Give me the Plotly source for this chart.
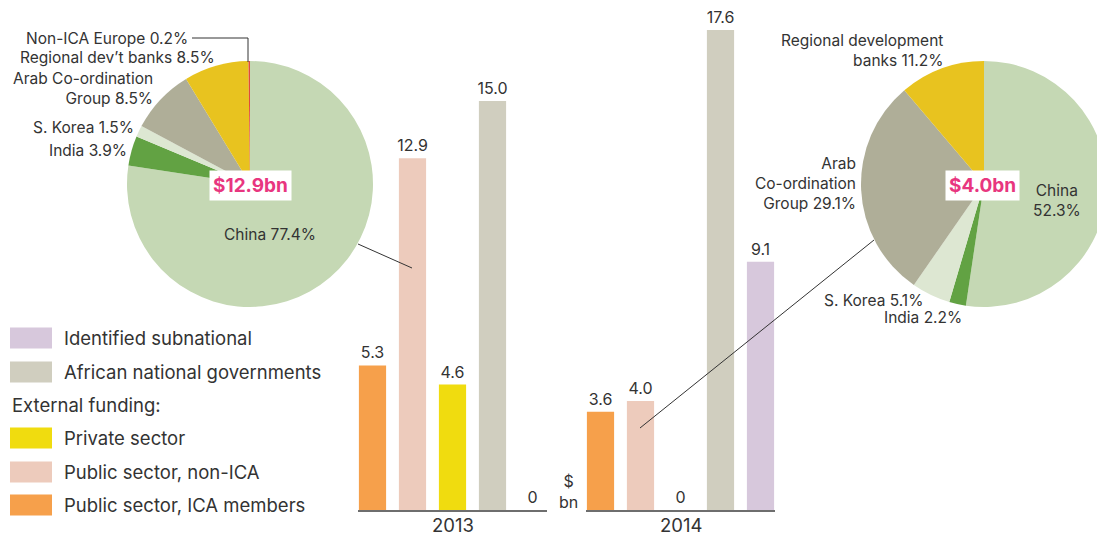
import plotly.graph_objects as go

# ---------------- data ----------------
series = ["Public sector, ICA members", "Public sector, non-ICA", "Private sector",
          "African national governments", "Identified subnational"]
values_2013 = [5.3, 12.9, 4.6, 15.0, 0]
values_2014 = [3.6, 4.0, 0, 17.6, 9.1]
years = ["2013", "2014"]

pie_labels_2013 = ["China", "India", "S. Korea", "Arab Co-ordination Group",
                   "Regional dev’t banks", "Non-ICA Europe"]
pie_values_2013 = [77.4, 3.9, 1.5, 8.5, 8.5, 0.2]
pie_total_2013 = "$12.9bn"

pie_labels_2014 = ["China", "India", "S. Korea", "Arab Co-ordination Group",
                   "Regional development banks"]
pie_values_2014 = [52.3, 2.2, 5.1, 29.1, 11.2]
pie_total_2014 = "$4.0bn"

legend_order = ["Identified subnational", "African national governments", None,
                "Private sector", "Public sector, non-ICA", "Public sector, ICA members"]

# ---------------- styles ----------------
series_colors = {
    "Public sector, ICA members": "#F6A04B",
    "Public sector, non-ICA": "#EDCBBC",
    "Private sector": "#F0DC0F",
    "African national governments": "#D0CEBF",
    "Identified subnational": "#D7C8DC",
}
pie_colors = {
    "China": "#C5D8B4",
    "India": "#62A243",
    "S. Korea": "#DDE7D2",
    "Arab Co-ordination Group": "#AFAE98",
    "Regional dev’t banks": "#E8C31F",
    "Regional development banks": "#E8C31F",
    "Non-ICA Europe": "#E04B3A",
}
FONT = "Inter"
TXT = "#333333"
PINK = "#E8367F"

W, H = 1110, 537


def px_x(p):
    return p / W


def px_y(p):
    return (H - p) / H


fig = go.Figure()

# ---------------- bars ----------------
for i, (yr, vals) in enumerate(zip(years, [values_2013, values_2014])):
    fig.add_trace(go.Bar(
        x=series, y=vals,
        marker=dict(color=[series_colors[s] for s in series], line=dict(width=0)),
        width=0.68,
        text=[f"{v:.1f}" if v else "0" for v in vals],
        textposition="outside",
        constraintext="none",
        textfont=dict(family=FONT, size=16, color=TXT),
        cliponaxis=False,
        xaxis="x" if i == 0 else "x2",
        yaxis="y",
        hoverinfo="skip",
        showlegend=False,
    ))

# ---------------- pies ----------------
fig.add_trace(go.Pie(
    labels=pie_labels_2013, values=pie_values_2013, sort=False,
    direction="clockwise", rotation=0, textinfo="none", hoverinfo="skip",
    marker=dict(colors=[pie_colors[l] for l in pie_labels_2013], line=dict(width=0)),
    domain=dict(x=[px_x(127), px_x(373)], y=[px_y(307), px_y(61)]),
    showlegend=False,
))
fig.add_trace(go.Pie(
    labels=pie_labels_2014, values=pie_values_2014, sort=False,
    direction="clockwise", rotation=0, textinfo="none", hoverinfo="skip",
    marker=dict(colors=[pie_colors[l] for l in pie_labels_2014], line=dict(width=0)),
    domain=dict(x=[px_x(861), px_x(1107)], y=[px_y(307), px_y(61)]),
    showlegend=False,
))

annotations = []
shapes = []


def note(text, x, y, xanchor="right", size=15.5, align="right", **kw):
    annotations.append(dict(text=text, x=px_x(x), y=px_y(y), xref="paper", yref="paper",
                            xanchor=xanchor, yanchor="middle", showarrow=False, align=align,
                            font=dict(family=FONT, size=size, color=kw.pop("color", TXT)), **kw))


# pie labels 2013
p13 = dict(zip(pie_labels_2013, pie_values_2013))
note(f"Non-ICA Europe {p13['Non-ICA Europe']}%", 190, 38)
note(f"Regional dev’t banks {p13['Regional dev’t banks']}%", 217, 57)
note(f"Arab Co-ordination<br>Group {p13['Arab Co-ordination Group']}%", 155, 88)
note(f"S. Korea {p13['S. Korea']}%", 136, 128)
note(f"India {p13['India']}%", 129, 150)
note(f"China {p13['China']}%", 270, 234, xanchor="center", align="center")

# pie labels 2014
p14 = dict(zip(pie_labels_2014, pie_values_2014))
note(f"Regional development<br>banks {p14['Regional development banks']}%", 945, 50)
note(f"Arab<br>Co-ordination<br>Group {p14['Arab Co-ordination Group']}%", 858, 184)
note(f"China<br>{p14['China']}%", 1057, 200, xanchor="center", align="center")
note(f"S. Korea {p14['S. Korea']}%", 925, 300)
note(f"India {p14['India']}%", 964, 317)

# totals
note(f"<b>{pie_total_2013}</b>", 250, 185, xanchor="center", size=19, color=PINK,
     bgcolor="white", borderpad=3)
note(f"<b>{pie_total_2014}</b>", 983, 185, xanchor="center", size=19, color=PINK,
     bgcolor="white", borderpad=3)

# unit label
note("$<br>bn", 568, 491, xanchor="center", align="center", size=16)

# year labels under each axis
for axref, yr in zip(["x domain", "x2 domain"], years):
    annotations.append(dict(text=yr, xref=axref, x=0.5, yref="paper", y=0,
                            xanchor="center", yanchor="bottom", showarrow=False,
                            borderpad=0,
                            font=dict(family=FONT, size=18.5, color=TXT)))

# leader lines
line_style = dict(color="#333333", width=1)
shapes.append(dict(type="path", xref="paper", yref="paper",
                   path=f"M {px_x(192)},{px_y(38)} L {px_x(248)},{px_y(38)} L {px_x(248)},{px_y(62)}",
                   line=line_style))
shapes.append(dict(type="line", xref="paper", yref="paper",
                   x0=px_x(358), y0=px_y(244), x1=px_x(412), y1=px_y(268), line=line_style))
shapes.append(dict(type="line", xref="paper", yref="paper",
                   x0=px_x(640), y0=px_y(428), x1=px_x(874), y1=px_y(240), line=line_style))

# legend (swatches + labels)
legend_y = [338, 372, 405, 438, 472, 505]
for name, yc in zip(legend_order, legend_y):
    if name is None:
        note("External funding:", 10, yc, xanchor="left", align="left", size=18.5)
        continue
    shapes.append(dict(type="rect", xref="paper", yref="paper",
                       x0=px_x(10), x1=px_x(52), y0=px_y(yc + 10.5), y1=px_y(yc - 10.5),
                       fillcolor=series_colors[name], line=dict(width=0)))
    note(name, 62, yc, xanchor="left", align="left", size=18.5)

ax_common = dict(type="category", range=[-0.3625, 4.3625], showticklabels=False,
                 showgrid=False, zeroline=False, showline=True, linecolor="#6E6E6E",
                 linewidth=1.5, ticks="", automargin=False, fixedrange=True)

fig.update_layout(
    width=W, height=H,
    margin=dict(l=0, r=0, t=0, b=0),
    paper_bgcolor="white", plot_bgcolor="white",
    font=dict(family=FONT, color=TXT),
    bargap=0.32,
    xaxis=dict(ax_common, domain=[px_x(358), px_x(547)], anchor="y"),
    xaxis2=dict(ax_common, domain=[px_x(586), px_x(775)], anchor="y"),
    yaxis=dict(range=[0, 510 / 27.27], domain=[px_y(510), 1], visible=False,
               fixedrange=True),
    annotations=annotations,
    shapes=shapes,
)

fig.write_html("out.html", post_script=(
    "document.documentElement.style.overflow='hidden';"
    "document.body.style.overflow='hidden';"))
